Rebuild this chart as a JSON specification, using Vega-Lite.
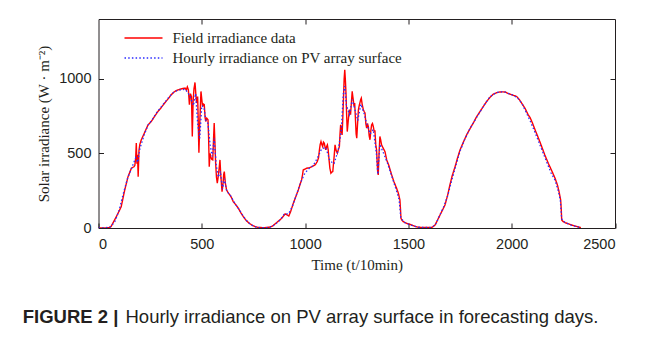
{
  "$schema": "https://vega.github.io/schema/vega-lite/v6.json",
  "width": 516.5,
  "height": 209,
  "autosize": {"type": "none"},
  "padding": {"left": 98.5, "top": 19, "right": 38, "bottom": 112},
  "background": "white",
  "title": {
    "text": "FIGURE 2 |",
    "subtitle": "\u200b\u00a0\u00a0\u00a0\u00a0\u00a0\u00a0\u00a0\u00a0\u00a0\u00a0\u00a0\u00a0\u00a0\u00a0\u00a0\u00a0\u00a0\u00a0\u00a0\u00a0Hourly irradiance on PV array surface in forecasting days.",
    "orient": "bottom",
    "anchor": "start",
    "frame": "group",
    "dx": -75.8,
    "offset": 35,
    "font": "Liberation Sans",
    "fontSize": 18.5,
    "fontWeight": "bold",
    "color": "#231f20",
    "subtitleFont": "Liberation Sans",
    "subtitleFontSize": 18.5,
    "subtitleFontWeight": "normal",
    "subtitleColor": "#231f20",
    "subtitlePadding": -18.5
  },
  "data": {"values": [
    {"s":"Field","t":0,"v":0},{"s":"Field","t":30,"v":0},{"s":"Field","t":50,"v":2},{"s":"Field","t":60,"v":8},{"s":"Field","t":78,"v":54},{"s":"Field","t":95,"v":100},{"s":"Field","t":110,"v":143},{"s":"Field","t":127,"v":255},{"s":"Field","t":143,"v":344},{"s":"Field","t":159,"v":400},{"s":"Field","t":172,"v":411},{"s":"Field","t":176,"v":420},{"s":"Field","t":180,"v":470},{"s":"Field","t":183,"v":570},{"s":"Field","t":186,"v":430},{"s":"Field","t":189,"v":490},{"s":"Field","t":192,"v":344},{"s":"Field","t":196,"v":520},{"s":"Field","t":200,"v":560},{"s":"Field","t":207,"v":590},{"s":"Field","t":220,"v":630},{"s":"Field","t":240,"v":691},{"s":"Field","t":256,"v":714},{"s":"Field","t":270,"v":745},{"s":"Field","t":288,"v":781},{"s":"Field","t":300,"v":800},{"s":"Field","t":320,"v":837},{"s":"Field","t":340,"v":870},{"s":"Field","t":352,"v":893},{"s":"Field","t":365,"v":910},{"s":"Field","t":377,"v":921},{"s":"Field","t":395,"v":930},{"s":"Field","t":410,"v":935},{"s":"Field","t":419,"v":937},{"s":"Field","t":425,"v":925},{"s":"Field","t":430,"v":945},{"s":"Field","t":435,"v":926},{"s":"Field","t":440,"v":826},{"s":"Field","t":445,"v":900},{"s":"Field","t":450,"v":880},{"s":"Field","t":454,"v":613},{"s":"Field","t":458,"v":850},{"s":"Field","t":462,"v":930},{"s":"Field","t":467,"v":975},{"s":"Field","t":471,"v":900},{"s":"Field","t":475,"v":837},{"s":"Field","t":480,"v":880},{"s":"Field","t":486,"v":505},{"s":"Field","t":490,"v":700},{"s":"Field","t":496,"v":915},{"s":"Field","t":500,"v":860},{"s":"Field","t":504,"v":814},{"s":"Field","t":508,"v":830},{"s":"Field","t":512,"v":826},{"s":"Field","t":516,"v":740},{"s":"Field","t":519,"v":714},{"s":"Field","t":524,"v":735},{"s":"Field","t":530,"v":725},{"s":"Field","t":533,"v":600},{"s":"Field","t":536,"v":411},{"s":"Field","t":540,"v":500},{"s":"Field","t":543,"v":478},{"s":"Field","t":548,"v":460},{"s":"Field","t":553,"v":456},{"s":"Field","t":557,"v":600},{"s":"Field","t":560,"v":703},{"s":"Field","t":564,"v":550},{"s":"Field","t":567,"v":434},{"s":"Field","t":571,"v":340},{"s":"Field","t":575,"v":300},{"s":"Field","t":580,"v":350},{"s":"Field","t":584,"v":400},{"s":"Field","t":588,"v":456},{"s":"Field","t":592,"v":350},{"s":"Field","t":598,"v":244},{"s":"Field","t":603,"v":300},{"s":"Field","t":606,"v":360},{"s":"Field","t":609,"v":378},{"s":"Field","t":614,"v":300},{"s":"Field","t":620,"v":255},{"s":"Field","t":628,"v":235},{"s":"Field","t":636,"v":221},{"s":"Field","t":645,"v":200},{"s":"Field","t":652,"v":177},{"s":"Field","t":665,"v":155},{"s":"Field","t":677,"v":132},{"s":"Field","t":690,"v":100},{"s":"Field","t":701,"v":76},{"s":"Field","t":715,"v":50},{"s":"Field","t":730,"v":31},{"s":"Field","t":745,"v":18},{"s":"Field","t":760,"v":8},{"s":"Field","t":774,"v":4},{"s":"Field","t":800,"v":2},{"s":"Field","t":830,"v":6},{"s":"Field","t":845,"v":15},{"s":"Field","t":854,"v":27},{"s":"Field","t":870,"v":45},{"s":"Field","t":887,"v":65},{"s":"Field","t":895,"v":80},{"s":"Field","t":903,"v":94},{"s":"Field","t":910,"v":90},{"s":"Field","t":921,"v":80},{"s":"Field","t":930,"v":110},{"s":"Field","t":943,"v":166},{"s":"Field","t":955,"v":210},{"s":"Field","t":967,"v":255},{"s":"Field","t":975,"v":290},{"s":"Field","t":983,"v":322},{"s":"Field","t":988,"v":360},{"s":"Field","t":991,"v":389},{"s":"Field","t":1000,"v":395},{"s":"Field","t":1007,"v":400},{"s":"Field","t":1024,"v":405},{"s":"Field","t":1040,"v":416},{"s":"Field","t":1050,"v":425},{"s":"Field","t":1059,"v":445},{"s":"Field","t":1065,"v":470},{"s":"Field","t":1069,"v":520},{"s":"Field","t":1073,"v":560},{"s":"Field","t":1077,"v":579},{"s":"Field","t":1081,"v":560},{"s":"Field","t":1085,"v":546},{"s":"Field","t":1089,"v":575},{"s":"Field","t":1093,"v":568},{"s":"Field","t":1097,"v":540},{"s":"Field","t":1100,"v":523},{"s":"Field","t":1104,"v":545},{"s":"Field","t":1108,"v":557},{"s":"Field","t":1112,"v":520},{"s":"Field","t":1116,"v":456},{"s":"Field","t":1120,"v":400},{"s":"Field","t":1125,"v":367},{"s":"Field","t":1130,"v":375},{"s":"Field","t":1134,"v":378},{"s":"Field","t":1140,"v":470},{"s":"Field","t":1145,"v":557},{"s":"Field","t":1150,"v":520},{"s":"Field","t":1156,"v":501},{"s":"Field","t":1160,"v":520},{"s":"Field","t":1166,"v":546},{"s":"Field","t":1169,"v":630},{"s":"Field","t":1172,"v":691},{"s":"Field","t":1176,"v":650},{"s":"Field","t":1179,"v":624},{"s":"Field","t":1182,"v":720},{"s":"Field","t":1185,"v":837},{"s":"Field","t":1189,"v":1000},{"s":"Field","t":1192,"v":1060},{"s":"Field","t":1195,"v":990},{"s":"Field","t":1198,"v":900},{"s":"Field","t":1201,"v":760},{"s":"Field","t":1204,"v":646},{"s":"Field","t":1209,"v":720},{"s":"Field","t":1214,"v":792},{"s":"Field","t":1217,"v":780},{"s":"Field","t":1220,"v":759},{"s":"Field","t":1224,"v":840},{"s":"Field","t":1228,"v":915},{"s":"Field","t":1232,"v":870},{"s":"Field","t":1237,"v":814},{"s":"Field","t":1240,"v":837},{"s":"Field","t":1244,"v":720},{"s":"Field","t":1247,"v":630},{"s":"Field","t":1250,"v":602},{"s":"Field","t":1254,"v":700},{"s":"Field","t":1258,"v":792},{"s":"Field","t":1262,"v":820},{"s":"Field","t":1265,"v":837},{"s":"Field","t":1269,"v":860},{"s":"Field","t":1272,"v":870},{"s":"Field","t":1276,"v":830},{"s":"Field","t":1282,"v":792},{"s":"Field","t":1286,"v":780},{"s":"Field","t":1290,"v":770},{"s":"Field","t":1294,"v":700},{"s":"Field","t":1298,"v":669},{"s":"Field","t":1302,"v":700},{"s":"Field","t":1306,"v":680},{"s":"Field","t":1310,"v":620},{"s":"Field","t":1314,"v":591},{"s":"Field","t":1318,"v":650},{"s":"Field","t":1322,"v":691},{"s":"Field","t":1326,"v":700},{"s":"Field","t":1330,"v":680},{"s":"Field","t":1334,"v":650},{"s":"Field","t":1338,"v":650},{"s":"Field","t":1342,"v":560},{"s":"Field","t":1346,"v":523},{"s":"Field","t":1351,"v":380},{"s":"Field","t":1354,"v":356},{"s":"Field","t":1358,"v":500},{"s":"Field","t":1362,"v":613},{"s":"Field","t":1366,"v":590},{"s":"Field","t":1370,"v":557},{"s":"Field","t":1378,"v":535},{"s":"Field","t":1387,"v":510},{"s":"Field","t":1395,"v":456},{"s":"Field","t":1405,"v":420},{"s":"Field","t":1419,"v":356},{"s":"Field","t":1430,"v":310},{"s":"Field","t":1443,"v":266},{"s":"Field","t":1452,"v":230},{"s":"Field","t":1459,"v":188},{"s":"Field","t":1462,"v":120},{"s":"Field","t":1464,"v":65},{"s":"Field","t":1470,"v":50},{"s":"Field","t":1475,"v":42},{"s":"Field","t":1490,"v":32},{"s":"Field","t":1516,"v":20},{"s":"Field","t":1530,"v":12},{"s":"Field","t":1548,"v":5},{"s":"Field","t":1580,"v":3},{"s":"Field","t":1613,"v":4},{"s":"Field","t":1620,"v":10},{"s":"Field","t":1629,"v":20},{"s":"Field","t":1640,"v":50},{"s":"Field","t":1653,"v":87},{"s":"Field","t":1665,"v":120},{"s":"Field","t":1677,"v":154},{"s":"Field","t":1690,"v":220},{"s":"Field","t":1701,"v":289},{"s":"Field","t":1712,"v":350},{"s":"Field","t":1726,"v":411},{"s":"Field","t":1738,"v":470},{"s":"Field","t":1750,"v":523},{"s":"Field","t":1766,"v":575},{"s":"Field","t":1782,"v":624},{"s":"Field","t":1798,"v":665},{"s":"Field","t":1814,"v":703},{"s":"Field","t":1830,"v":745},{"s":"Field","t":1847,"v":781},{"s":"Field","t":1863,"v":815},{"s":"Field","t":1879,"v":848},{"s":"Field","t":1895,"v":875},{"s":"Field","t":1911,"v":897},{"s":"Field","t":1927,"v":906},{"s":"Field","t":1943,"v":911},{"s":"Field","t":1955,"v":912},{"s":"Field","t":1968,"v":911},{"s":"Field","t":1985,"v":900},{"s":"Field","t":2000,"v":893},{"s":"Field","t":2012,"v":887},{"s":"Field","t":2024,"v":881},{"s":"Field","t":2036,"v":862},{"s":"Field","t":2048,"v":837},{"s":"Field","t":2064,"v":803},{"s":"Field","t":2080,"v":758},{"s":"Field","t":2089,"v":740},{"s":"Field","t":2100,"v":705},{"s":"Field","t":2113,"v":658},{"s":"Field","t":2130,"v":600},{"s":"Field","t":2145,"v":546},{"s":"Field","t":2160,"v":490},{"s":"Field","t":2177,"v":434},{"s":"Field","t":2195,"v":380},{"s":"Field","t":2210,"v":333},{"s":"Field","t":2222,"v":285},{"s":"Field","t":2229,"v":244},{"s":"Field","t":2237,"v":188},{"s":"Field","t":2240,"v":120},{"s":"Field","t":2242,"v":54},{"s":"Field","t":2250,"v":42},{"s":"Field","t":2258,"v":36},{"s":"Field","t":2275,"v":28},{"s":"Field","t":2290,"v":20},{"s":"Field","t":2310,"v":12},{"s":"Field","t":2335,"v":2},
    {"s":"Hourly","t":0,"v":0},{"s":"Hourly","t":30,"v":0},{"s":"Hourly","t":60,"v":10},{"s":"Hourly","t":80,"v":45},{"s":"Hourly","t":100,"v":120},{"s":"Hourly","t":120,"v":230},{"s":"Hourly","t":140,"v":330},{"s":"Hourly","t":160,"v":400},{"s":"Hourly","t":180,"v":470},{"s":"Hourly","t":190,"v":440},{"s":"Hourly","t":200,"v":530},{"s":"Hourly","t":220,"v":620},{"s":"Hourly","t":240,"v":690},{"s":"Hourly","t":260,"v":725},{"s":"Hourly","t":280,"v":770},{"s":"Hourly","t":300,"v":805},{"s":"Hourly","t":320,"v":840},{"s":"Hourly","t":340,"v":875},{"s":"Hourly","t":360,"v":905},{"s":"Hourly","t":380,"v":920},{"s":"Hourly","t":400,"v":925},{"s":"Hourly","t":420,"v":930},{"s":"Hourly","t":440,"v":890},{"s":"Hourly","t":460,"v":820},{"s":"Hourly","t":470,"v":900},{"s":"Hourly","t":480,"v":700},{"s":"Hourly","t":490,"v":600},{"s":"Hourly","t":500,"v":820},{"s":"Hourly","t":510,"v":810},{"s":"Hourly","t":520,"v":720},{"s":"Hourly","t":530,"v":700},{"s":"Hourly","t":540,"v":560},{"s":"Hourly","t":550,"v":480},{"s":"Hourly","t":560,"v":600},{"s":"Hourly","t":570,"v":420},{"s":"Hourly","t":580,"v":340},{"s":"Hourly","t":590,"v":380},{"s":"Hourly","t":600,"v":260},{"s":"Hourly","t":610,"v":330},{"s":"Hourly","t":620,"v":250},{"s":"Hourly","t":640,"v":215},{"s":"Hourly","t":660,"v":165},{"s":"Hourly","t":680,"v":125},{"s":"Hourly","t":700,"v":80},{"s":"Hourly","t":720,"v":45},{"s":"Hourly","t":740,"v":20},{"s":"Hourly","t":760,"v":8},{"s":"Hourly","t":780,"v":3},{"s":"Hourly","t":820,"v":3},{"s":"Hourly","t":840,"v":10},{"s":"Hourly","t":860,"v":30},{"s":"Hourly","t":880,"v":55},{"s":"Hourly","t":900,"v":95},{"s":"Hourly","t":920,"v":95},{"s":"Hourly","t":940,"v":150},{"s":"Hourly","t":960,"v":230},{"s":"Hourly","t":980,"v":310},{"s":"Hourly","t":1000,"v":370},{"s":"Hourly","t":1020,"v":400},{"s":"Hourly","t":1040,"v":420},{"s":"Hourly","t":1060,"v":470},{"s":"Hourly","t":1080,"v":530},{"s":"Hourly","t":1100,"v":540},{"s":"Hourly","t":1120,"v":450},{"s":"Hourly","t":1140,"v":430},{"s":"Hourly","t":1160,"v":520},{"s":"Hourly","t":1175,"v":650},{"s":"Hourly","t":1185,"v":900},{"s":"Hourly","t":1192,"v":950},{"s":"Hourly","t":1200,"v":820},{"s":"Hourly","t":1215,"v":760},{"s":"Hourly","t":1228,"v":860},{"s":"Hourly","t":1240,"v":800},{"s":"Hourly","t":1255,"v":720},{"s":"Hourly","t":1270,"v":830},{"s":"Hourly","t":1285,"v":770},{"s":"Hourly","t":1300,"v":690},{"s":"Hourly","t":1315,"v":630},{"s":"Hourly","t":1330,"v":660},{"s":"Hourly","t":1345,"v":500},{"s":"Hourly","t":1352,"v":360},{"s":"Hourly","t":1362,"v":560},{"s":"Hourly","t":1380,"v":500},{"s":"Hourly","t":1400,"v":430},{"s":"Hourly","t":1420,"v":345},{"s":"Hourly","t":1440,"v":260},{"s":"Hourly","t":1455,"v":190},{"s":"Hourly","t":1463,"v":70},{"s":"Hourly","t":1480,"v":38},{"s":"Hourly","t":1510,"v":20},{"s":"Hourly","t":1550,"v":5},{"s":"Hourly","t":1610,"v":3},{"s":"Hourly","t":1630,"v":20},{"s":"Hourly","t":1650,"v":80},{"s":"Hourly","t":1670,"v":140},{"s":"Hourly","t":1690,"v":215},{"s":"Hourly","t":1710,"v":320},{"s":"Hourly","t":1730,"v":420},{"s":"Hourly","t":1750,"v":515},{"s":"Hourly","t":1770,"v":585},{"s":"Hourly","t":1790,"v":645},{"s":"Hourly","t":1810,"v":695},{"s":"Hourly","t":1830,"v":740},{"s":"Hourly","t":1850,"v":785},{"s":"Hourly","t":1870,"v":830},{"s":"Hourly","t":1890,"v":870},{"s":"Hourly","t":1910,"v":895},{"s":"Hourly","t":1930,"v":908},{"s":"Hourly","t":1950,"v":912},{"s":"Hourly","t":1970,"v":910},{"s":"Hourly","t":1990,"v":898},{"s":"Hourly","t":2010,"v":888},{"s":"Hourly","t":2030,"v":868},{"s":"Hourly","t":2050,"v":832},{"s":"Hourly","t":2070,"v":775},{"s":"Hourly","t":2090,"v":715},{"s":"Hourly","t":2110,"v":650},{"s":"Hourly","t":2130,"v":580},{"s":"Hourly","t":2150,"v":510},{"s":"Hourly","t":2170,"v":440},{"s":"Hourly","t":2190,"v":370},{"s":"Hourly","t":2210,"v":320},{"s":"Hourly","t":2225,"v":250},{"s":"Hourly","t":2235,"v":190},{"s":"Hourly","t":2242,"v":60},{"s":"Hourly","t":2260,"v":35},{"s":"Hourly","t":2290,"v":18},{"s":"Hourly","t":2335,"v":2}
  ]},
  "encoding": {
    "x": {"field": "t", "type": "quantitative", "scale": {"domain": [0, 2500], "nice": false}},
    "y": {"field": "v", "type": "quantitative", "scale": {"domain": [0, 1400], "nice": false}},
    "color": {
      "field": "s", "type": "nominal",
      "scale": {"domain": ["Field", "Hourly"], "range": ["#ff0000", "#2b2bff"]},
      "legend": {
        "title": null,
        "orient": "none",
        "legendX": 25,
        "legendY": -1,
        "values": ["Field"],
        "symbolType": "stroke",
        "symbolSize": 1444,
        "symbolStrokeWidth": 1.5,
        "labelFont": "Liberation Serif",
        "labelFontSize": 15,
        "labelColor": "#231f20",
        "labelOffset": 9,
        "labelLimit": 400,
        "labelExpr": "'Field irradiance data'"
      }
    },
    "strokeDash": {
      "field": "s", "type": "nominal",
      "scale": {"domain": ["Hourly", "Field"], "range": [[1.5, 2.2], [1, 0]]},
      "legend": {
        "title": null,
        "orient": "none",
        "legendX": 25,
        "legendY": 19,
        "values": ["Hourly"],
        "symbolType": "stroke",
        "symbolSize": 1444,
        "symbolStrokeWidth": 1.3,
        "symbolStrokeColor": "#2b2bff",
        "labelFont": "Liberation Serif",
        "labelFontSize": 15,
        "labelColor": "#231f20",
        "labelOffset": 9,
        "labelLimit": 400,
        "labelExpr": "'Hourly irradiance on PV array surface'"
      }
    }
  },
  "layer": [
    {
      "transform": [{"filter": "datum.s == 'Field'"}],
      "mark": {"type": "line", "strokeWidth": 1.4, "clip": true},
      "encoding": {
        "x": {"field": "t", "type": "quantitative", "axis": {"orient": "bottom", "title": "Time (t/10min)", "format": "d", "values": [0, 500, 1000, 1500, 2000, 2500], "labelPadding": 14, "titlePadding": 7}},
        "y": {"field": "v", "type": "quantitative", "axis": {"orient": "left", "title": "Solar irradiance (W · m⁻²)", "format": "d", "values": [0, 500, 1000], "labelPadding": 12.5, "titlePadding": 7}}
      }
    },
    {
      "transform": [{"filter": "datum.s == 'Hourly'"}],
      "mark": {"type": "line", "strokeWidth": 1.3, "clip": true},
      "encoding": {
        "x": {"field": "t", "type": "quantitative", "axis": {"orient": "top", "title": null, "labels": false, "values": [500, 1000, 1500, 2000]}},
        "y": {"field": "v", "type": "quantitative", "axis": {"orient": "right", "title": null, "labels": false, "values": [500, 1000]}}
      }
    }
  ],
  "resolve": {"axis": {"x": "independent", "y": "independent"}},
  "config": {
    "view": {"stroke": null},
    "axis": {
      "grid": false,
      "domainColor": "#231f20",
      "domainWidth": 1,
      "tickColor": "#231f20",
      "tickSize": -5,
      "tickWidth": 1,
      "labelFont": "Liberation Sans",
      "labelFontSize": 14.5,
      "labelColor": "#231f20",
      "titleFont": "Liberation Serif",
      "titleFontSize": 15,
      "titleFontWeight": "normal",
      "titleColor": "#231f20"
    }
  }
}
